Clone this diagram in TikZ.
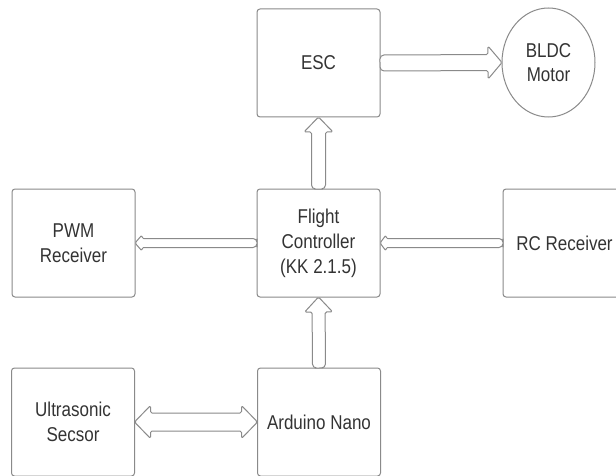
\documentclass[tikz,border=0pt]{standalone}
\usepackage{fontspec}
\setmainfont{Liberation Sans}[FakeStretch=0.85]
\usetikzlibrary{shapes.geometric,calc}
\definecolor{linegray}{HTML}{8A8A8A}
\definecolor{txtgray}{HTML}{333333}
\tikzset{
  blk/.style={draw=linegray, line width=1pt, rounded corners=3pt, minimum width=123pt,
    minimum height=108pt, inner sep=0pt, outer sep=0pt, align=center, text=txtgray,
    font=\fontsize{20}{25}\selectfont},
  motor/.style={ellipse, draw=linegray, line width=1pt, minimum width=93pt,
    minimum height=109pt, inner sep=0pt, outer sep=0pt, align=center, text=txtgray,
    font=\fontsize{20}{24}\selectfont},
  arrowline/.style={draw=linegray, line width=1pt, fill=white, line join=round}
}
% single block arrow: start, end, shaft half width, head half width, head length
\newcommand\blockarr[5]{%
  \draw[arrowline] let \p1=(#1), \p2=(#2),
    \n1={veclen(\x2-\x1,\y2-\y1)},
    \n2={(\x2-\x1)/\n1}, \n3={(\y2-\y1)/\n1}, \n4={\n1-#5} in
    (\x1,\y1) [rounded corners=4pt]
    -- ({\x1-(#3)*\n3},{\y1+(#3)*\n2}) [rounded corners=1.5pt]
    -- ({\x1+\n4*\n2-(#3)*\n3},{\y1+\n4*\n3+(#3)*\n2})
    -- ({\x1+\n4*\n2-(#4)*\n3},{\y1+\n4*\n3+(#4)*\n2})
    -- (\x2,\y2)
    -- ({\x1+\n4*\n2+(#4)*\n3},{\y1+\n4*\n3-(#4)*\n2})
    -- ({\x1+\n4*\n2+(#3)*\n3},{\y1+\n4*\n3-(#3)*\n2}) [rounded corners=4pt]
    -- ({\x1+(#3)*\n3},{\y1-(#3)*\n2})
    -- cycle;}
% double block arrow
\newcommand\dblarr[5]{%
  \draw[arrowline, rounded corners=1.5pt] let \p1=(#1), \p2=(#2),
    \n1={veclen(\x2-\x1,\y2-\y1)},
    \n2={(\x2-\x1)/\n1}, \n3={(\y2-\y1)/\n1}, \n4={\n1-#5}, \n5={#5} in
    (\x1,\y1)
    -- ({\x1+\n5*\n2-(#4)*\n3},{\y1+\n5*\n3+(#4)*\n2})
    -- ({\x1+\n5*\n2-(#3)*\n3},{\y1+\n5*\n3+(#3)*\n2})
    -- ({\x1+\n4*\n2-(#3)*\n3},{\y1+\n4*\n3+(#3)*\n2})
    -- ({\x1+\n4*\n2-(#4)*\n3},{\y1+\n4*\n3+(#4)*\n2})
    -- (\x2,\y2)
    -- ({\x1+\n4*\n2+(#4)*\n3},{\y1+\n4*\n3-(#4)*\n2})
    -- ({\x1+\n4*\n2+(#3)*\n3},{\y1+\n4*\n3-(#3)*\n2})
    -- ({\x1+\n5*\n2+(#3)*\n3},{\y1+\n5*\n3-(#3)*\n2})
    -- ({\x1+\n5*\n2+(#4)*\n3},{\y1+\n5*\n3-(#4)*\n2})
    -- cycle;}
\begin{document}
\begin{tikzpicture}[x=1pt, y=-1pt]
  \fill[white] (0,0) rectangle (616,476);
  \clip (0,0) rectangle (616,476);
  \node[blk] (esc) at (318.5,63) {ESC};
  \node[motor] (bldc) at (548.5,62.5) {BLDC\\Motor};
  \node[blk] (pwm) at (73.5,243) {PWM\\Receiver};
  \node[blk] (fc) at (318.5,243) {Flight\\Controller\\(KK 2.1.5)};
  \node[blk] (rc) at (564.5,243) {RC Receiver};
  \node[blk] (us) at (73,422) {Ultrasonic\\Secsor};
  \node[blk] (ard) at (319,422) {Arduino Nano};
  \blockarr{esc.east}{bldc.west}{8}{16.5}{14}
  \blockarr{fc.north}{esc.south}{7}{14.5}{15}
  \blockarr{fc.west}{pwm.east}{4.5}{8}{7}
  \blockarr{rc.west}{fc.east}{4.5}{8}{6}
  \blockarr{ard.north}{fc.south}{6.5}{14}{15}
  \dblarr{us.east}{ard.west}{9}{16.5}{16}
\end{tikzpicture}
\end{document}
